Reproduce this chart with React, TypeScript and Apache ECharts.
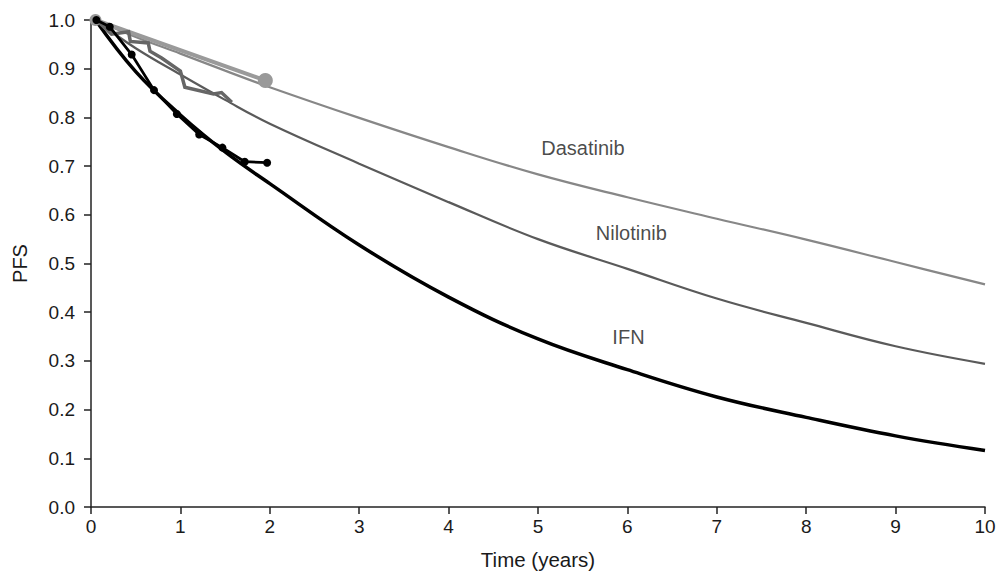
import React, { useEffect, useRef } from "react";
import * as echarts from "echarts";

// Parametric (fitted) curves
const fitYears = [0.05, 0.5, 1, 1.5, 2, 3, 4, 5, 6, 7, 8, 9, 10];
const dasatinibFit = [1.0, 0.965, 0.931, 0.896, 0.862, 0.799, 0.739, 0.683, 0.636, 0.592, 0.549, 0.503, 0.457];
const nilotinibFit = [1.0, 0.942, 0.888, 0.836, 0.787, 0.705, 0.626, 0.55, 0.489, 0.428, 0.378, 0.33, 0.294];
const ifnFit = [1.0, 0.894, 0.805, 0.729, 0.664, 0.538, 0.431, 0.345, 0.282, 0.226, 0.184, 0.146, 0.116];

// Observed (Kaplan–Meier) data
const dasatinibKmYears = [0.05, 1.95];
const dasatinibKm = [1.0, 0.876];
const nilotinibKmYears = [0.06, 0.23, 0.42, 0.44, 0.64, 0.66, 0.79, 1.0, 1.05, 1.37, 1.46, 1.575];
const nilotinibKm = [1.0, 0.971, 0.976, 0.956, 0.953, 0.936, 0.922, 0.895, 0.862, 0.848, 0.851, 0.831];
const ifnKmYears = [0.06, 0.21, 0.455, 0.705, 0.96, 1.21, 1.47, 1.72, 1.97];
const ifnKm = [1.0, 0.986, 0.929, 0.856, 0.807, 0.765, 0.738, 0.709, 0.707];

// Curve labels
const labelNames = ["Dasatinib", "Nilotinib", "IFN"];
const labelYears = [5.503, 6.044, 6.012];
const labelValues = [0.738, 0.562, 0.349];

const FONT = "'Liberation Sans', Arial, Helvetica, sans-serif";
const TEXT = "#1a1a1a";

const zip = (xs: number[], ys: number[]) => xs.map((x, i) => [x, ys[i]]);

export default function App() {
  const ref = useRef<HTMLDivElement>(null);
  useEffect(() => {
    if (!ref.current) return;
    const chart = echarts.init(ref.current, undefined, { renderer: "svg" });
    const axisCommon = {
      axisLine: { show: true, lineStyle: { color: "#222", width: 1.5 } },
      axisTick: { show: true, inside: false, length: 7, lineStyle: { color: "#222", width: 1.5 } },
      splitLine: { show: false },
      nameTextStyle: { fontFamily: FONT, fontSize: 20, color: TEXT },
    };
    chart.setOption({
      animation: false,
      backgroundColor: "#fff",
      grid: { left: 91, right: 14, top: 20, bottom: 63, containLabel: false },
      xAxis: {
        type: "value",
        min: 0,
        max: 10,
        interval: 1,
        name: "Time (years)",
        nameLocation: "middle",
        nameGap: 42,
        ...axisCommon,
        nameTextStyle: { fontFamily: FONT, fontSize: 20.5, color: TEXT },
        axisLabel: { fontFamily: FONT, fontSize: 19, color: TEXT, margin: 10 },
      },
      yAxis: {
        type: "value",
        min: 0,
        max: 1,
        interval: 0.1,
        name: "PFS",
        nameLocation: "middle",
        nameGap: 61,
        nameRotate: 90,
        ...axisCommon,
        axisLabel: {
          fontFamily: FONT,
          fontSize: 19,
          color: TEXT,
          margin: 16,
          formatter: (v: number) => v.toFixed(1),
        },
      },
      series: [
        {
          type: "line",
          name: "Dasatinib fit",
          data: zip(fitYears, dasatinibFit),
          smooth: 0.4,
          showSymbol: false,
          lineStyle: { color: "#878787", width: 2.2 },
          z: 2,
        },
        {
          type: "line",
          name: "Nilotinib fit",
          data: zip(fitYears, nilotinibFit),
          smooth: 0.4,
          showSymbol: false,
          lineStyle: { color: "#5a5a5a", width: 2.2 },
          z: 2,
        },
        {
          type: "line",
          name: "IFN fit",
          data: zip(fitYears, ifnFit),
          smooth: 0.4,
          showSymbol: false,
          lineStyle: { color: "#000", width: 3.5 },
          z: 2,
        },
        {
          type: "line",
          name: "Dasatinib KM",
          data: zip(dasatinibKmYears, dasatinibKm),
          symbol: "circle",
          symbolSize: (_v: any, p: any) => (p.dataIndex === 0 ? 12 : 15),
          showAllSymbol: true,
          itemStyle: { color: "#999" },
          lineStyle: { color: "#9a9a9a", width: 4 },
          z: 3,
        },
        {
          type: "line",
          name: "Nilotinib KM",
          data: zip(nilotinibKmYears, nilotinibKm),
          showSymbol: false,
          lineStyle: { color: "#666", width: 3.5, join: "miter" },
          z: 4,
        },
        {
          type: "line",
          name: "IFN KM",
          data: zip(ifnKmYears, ifnKm),
          symbol: "circle",
          symbolSize: 8,
          showAllSymbol: true,
          itemStyle: { color: "#000" },
          lineStyle: { color: "#000", width: 2.8 },
          z: 5,
        },
        {
          type: "scatter",
          name: "labels",
          data: labelNames.map((n, i) => ({ name: n, value: [labelYears[i], labelValues[i]] })),
          symbolSize: 0,
          silent: true,
          label: {
            show: true,
            position: "inside",
            formatter: (p: any) => p.name,
            fontFamily: FONT,
            fontSize: 20,
            color: TEXT,
          },
          z: 6,
        },
      ],
    });
    return () => chart.dispose();
  }, []);
  return (
    <div
      ref={ref}
      style={{ position: "fixed", left: 0, top: 0, width: 999, height: 575, background: "#fff" }}
    />
  );
}
